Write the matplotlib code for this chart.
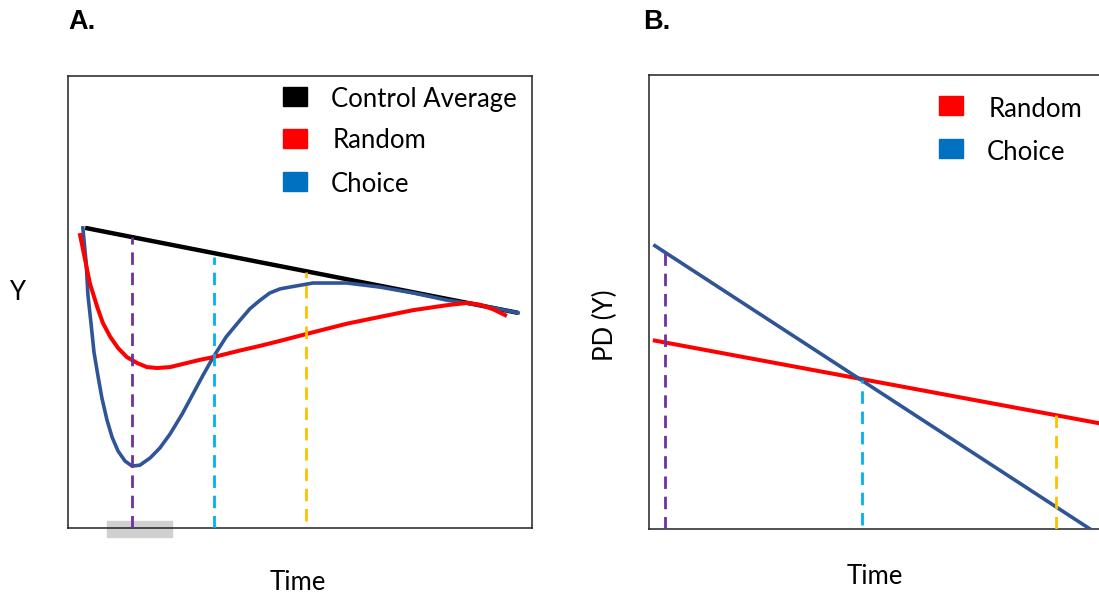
import matplotlib
matplotlib.use("Agg")
import matplotlib.pyplot as plt
from matplotlib.patches import Rectangle

plt.rcParams['font.family'] = ['Lato', 'DejaVu Sans']

W, H = 1099, 597

# ---- Panel A data (arbitrary units, time 0-10, Y 0-10) ----
control_t = [0.37, 9.70]
control_y = [6.64, 4.76]

random_t = [0.26, 0.37, 0.47, 0.63, 0.75, 0.91, 1.08, 1.27, 1.49, 1.70,
            1.92, 2.20, 2.56, 2.84, 3.13, 3.64, 4.14, 4.57, 5.28, 6.01,
            6.72, 7.44, 8.17, 8.60, 8.88, 9.16, 9.42]
random_y = [6.48, 5.93, 5.42, 4.89, 4.54, 4.23, 3.98, 3.78, 3.65, 3.56,
            3.54, 3.56, 3.65, 3.72, 3.78, 3.91, 4.03, 4.14, 4.33, 4.52,
            4.67, 4.82, 4.93, 4.98, 4.94, 4.84, 4.71]

choice_t = [0.32, 0.39, 0.43, 0.50, 0.56, 0.65, 0.73, 0.84, 0.95, 1.08,
            1.23, 1.38, 1.55, 1.77, 1.98, 2.20, 2.46, 2.69, 2.91, 3.13,
            3.41, 3.71, 3.92, 4.14, 4.35, 4.57, 4.78, 5.28, 6.01, 6.72,
            7.44, 8.17, 8.88, 9.70]
choice_y = [6.64, 5.88, 5.15, 4.49, 3.89, 3.34, 2.88, 2.39, 2.01, 1.70,
            1.48, 1.37, 1.39, 1.55, 1.77, 2.08, 2.52, 2.96, 3.38, 3.78,
            4.23, 4.60, 4.85, 5.04, 5.20, 5.29, 5.33, 5.42, 5.42, 5.33,
            5.20, 5.04, 4.93, 4.76]

# vertical markers: (time, top, bottom)
markers_a = [(1.38, 6.44, 0.0), (3.15, 6.00, 0.0), (5.13, 5.66, 0.15)]
window_a = (0.84, 2.24)  # grey window under the axis

# ---- Panel B data ----
pd_choice_t = [0.13, 9.80]
pd_choice_y = [6.24, 0.0]
pd_random_t = [0.13, 10.0]
pd_random_y = [4.15, 2.33]
markers_b = [(0.36, 6.26, 0.0), (4.73, 3.28, 0.09), (9.04, 2.67, 0.0)]

legend_a = ["Control Average", "Random", "Choice"]
legend_b = ["Random", "Choice"]

C_BLACK = "#000000"
C_RED = "#FF0000"
C_BLUE = "#2F5597"
C_BLUE_KEY = "#0070C0"
C_MARK = ["#7030A0", "#00B0F0", "#FFC000"]


def fx(px):
    return px / W


def fy(py):
    return 1 - py / H


fig = plt.figure(figsize=(W / 100, H / 100), dpi=100)

axA = fig.add_axes([fx(68), fy(528), 464 / W, 452 / H])
axB = fig.add_axes([fx(649), fy(529), 464 / W, 454 / H])

for ax in (axA, axB):
    ax.set_xticks([])
    ax.set_yticks([])
    for s in ax.spines.values():
        s.set_color("#222222")
        s.set_linewidth(1.1)

# Panel A
axA.set_xlim(0, 10)
axA.set_ylim(0, 10)
axA.plot(control_t, control_y, color=C_BLACK, lw=3.2, solid_capstyle='butt', zorder=2)
axA.plot(choice_t, choice_y, color=C_BLUE, lw=2.6, zorder=3,
         solid_joinstyle='round')
axA.plot(random_t, random_y, color=C_RED, lw=2.9, zorder=3,
         solid_joinstyle='round')
for (t, top, bot), c in zip(markers_a, C_MARK):
    axA.plot([t, t], [bot, top], color=c, lw=2.0, dashes=(4.5, 2.8), zorder=4)
axA.add_patch(Rectangle((window_a[0], -0.2), window_a[1] - window_a[0], 0.36,
                        color="#D0D0D0", clip_on=False, zorder=1))

# Panel B
axB.set_xlim(0, 10.31)
axB.set_ylim(0, 10)
axB.spines['right'].set_visible(False)
axB.plot(pd_random_t, pd_random_y, color=C_RED, lw=2.9, zorder=3)
axB.plot(pd_choice_t, pd_choice_y, color=C_BLUE, lw=2.6, zorder=3)
for (t, top, bot), c in zip(markers_b, C_MARK):
    axB.plot([t, t], [bot, top], color=c, lw=2.0, dashes=(4.5, 2.8), zorder=4)

FS = 18.5

# legends drawn as coloured keys with text
keys_a = [C_BLACK, C_RED, C_BLUE_KEY]
rows_a = [97, 138, 182]
text_x_a = [331, 333, 331]
for lab, c, yy, tx in zip(legend_a, keys_a, rows_a, text_x_a):
    fig.patches.append(Rectangle((fx(283), fy(yy + 9.5)), 24 / W, 19 / H,
                                 color=c, transform=fig.transFigure))
    fig.text(fx(tx), fy(yy + 3), lab, fontsize=FS, va='center', ha='left')

keys_b = [C_RED, C_BLUE_KEY]
rows_b = [105, 148]
text_x_b = [989, 987]
for lab, c, yy, tx in zip(legend_b, keys_b, rows_b, text_x_b):
    fig.patches.append(Rectangle((fx(939), fy(yy + 9.5)), 24 / W, 19 / H,
                                 color=c, transform=fig.transFigure))
    fig.text(fx(tx), fy(yy + 4.5), lab, fontsize=FS, va='center', ha='left')

# panel letters and axis labels
fig.text(fx(68), fy(22), "A.", fontsize=19.5, fontweight='bold', va='center',
         ha='left', family='Liberation Sans')
fig.text(fx(643), fy(22), "B.", fontsize=19.5, fontweight='bold', va='center',
         ha='left', family='Liberation Sans')
fig.text(fx(17), fy(293), "Y", fontsize=FS, va='center', ha='center')
fig.text(fx(298), fy(582), "Time", fontsize=FS, va='center', ha='center')
fig.text(fx(605), fy(325), "PD (Y)", fontsize=FS, va='center', ha='center',
         rotation=90)
fig.text(fx(875), fy(577), "Time", fontsize=FS, va='center', ha='center')

fig.savefig("out.png", dpi=100)
